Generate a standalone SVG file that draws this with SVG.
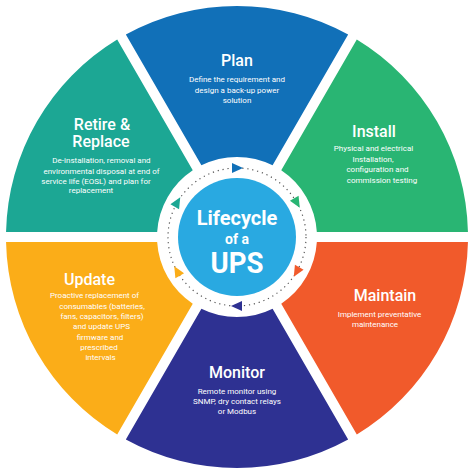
<svg xmlns="http://www.w3.org/2000/svg" xmlns:xlink="http://www.w3.org/1999/xlink" width="474" height="474" viewBox="0 0 474 474">
<style>
.t{font-family:Roboto,"Liberation Sans",sans-serif;font-weight:500;font-size:16px;fill:#fff;text-anchor:middle}
.d{font-family:Roboto,"Liberation Sans",sans-serif;font-weight:400;font-size:8px;fill:#fff;text-anchor:middle}
.c{font-family:Roboto,"Liberation Sans",sans-serif;font-weight:700;fill:#fff;text-anchor:middle}
</style>
<defs>
<path id="seg" d="M125.85 34.49 A231 231 0 0 1 348.15 34.49 L272.6 165.36 A80 80 0 0 0 201.4 165.36 Z"/>
<polygon id="ah" points="-5,-5 6,0 -5,5"/>
</defs>
<rect width="474" height="474" fill="#fff"/>
<g id="plan">
<use href="#seg" fill="#1170b8"/>
<text class="t" x="237" y="66">Plan</text>
<text class="d" x="237" y="82">Define the requirement and</text>
<text class="d" x="237" y="92.5">design a back-up power</text>
<text class="d" x="237" y="103">solution</text>
</g>
<g id="install">
<use href="#seg" fill="#29b573" transform="rotate(60 237 237)"/>
<text class="t" x="374" y="137">Install</text>
<text class="d" x="373.5" y="151">Physical and electrical</text>
<text class="d" x="373" y="161.5">Installation,</text>
<text class="d" x="377.5" y="172">configuration and</text>
<text class="d" x="382" y="182.5">commission testing</text>
</g>
<g id="maintain">
<use href="#seg" fill="#f15a2b" transform="rotate(120 237 237)"/>
<text class="t" x="385" y="301">Maintain</text>
<text class="d" x="379.5" y="317">Implement preventative</text>
<text class="d" x="375" y="326.5">maintenance</text>
</g>
<g id="monitor">
<use href="#seg" fill="#2e3192" transform="rotate(180 237 237)"/>
<text class="t" x="237" y="378">Monitor</text>
<text class="d" x="237" y="393.5">Remote monitor using</text>
<text class="d" x="237" y="404">SNMP, dry contact relays</text>
<text class="d" x="237" y="414">or Modbus</text>
</g>
<g id="update">
<use href="#seg" fill="#fbad18" transform="rotate(240 237 237)"/>
<text class="t" x="89.5" y="285">Update</text>
<text class="d" x="94.5" y="298">Proactive replacement of</text>
<text class="d" x="102" y="308.5">consumables (batteries,</text>
<text class="d" x="102" y="318.5">fans, capacitors, filters)</text>
<text class="d" x="101.5" y="329">and update UPS</text>
<text class="d" x="100" y="339.5">firmware and</text>
<text class="d" x="99" y="349.5">prescribed</text>
<text class="d" x="100.5" y="359.5">intervals</text>
</g>
<g id="retire">
<use href="#seg" fill="#1ca794" transform="rotate(300 237 237)"/>
<text class="t" x="102" y="129.5">Retire &amp;</text>
<text class="t" x="101" y="147">Replace</text>
<text class="d" x="101.5" y="163">De-installation, removal and</text>
<text class="d" x="101.5" y="173.5">environmental disposal at end of</text>
<text class="d" x="96" y="183.5">service life (EOSL) and plan for</text>
<text class="d" x="91" y="192.5">replacement</text>
</g>
<g id="connectors">
<circle cx="237" cy="237" r="69" fill="none" stroke="#555" stroke-width="1.2" stroke-dasharray="1.2 3.8"/>
<use href="#ah" fill="#1170b8" transform="translate(237 168)"/>
<use href="#ah" fill="#29b573" transform="translate(296.76 202.5) rotate(60)"/>
<use href="#ah" fill="#f15a2b" transform="translate(296.76 271.5) rotate(120)"/>
<use href="#ah" fill="#2e3192" transform="translate(237 306) rotate(180)"/>
<use href="#ah" fill="#fbad18" transform="translate(177.24 271.5) rotate(240)"/>
<use href="#ah" fill="#1ca794" transform="translate(177.24 202.5) rotate(300)"/>
</g>
<g id="center">
<circle cx="237" cy="237" r="59" fill="#29a9e1"/>
<text class="c" x="237" y="225" font-size="20">Lifecycle</text>
<text class="c" x="237" y="243.5" font-size="14">of a</text>
<text class="c" x="237" y="273" font-size="29" textLength="53" lengthAdjust="spacingAndGlyphs">UPS</text>
</g>
</svg>
